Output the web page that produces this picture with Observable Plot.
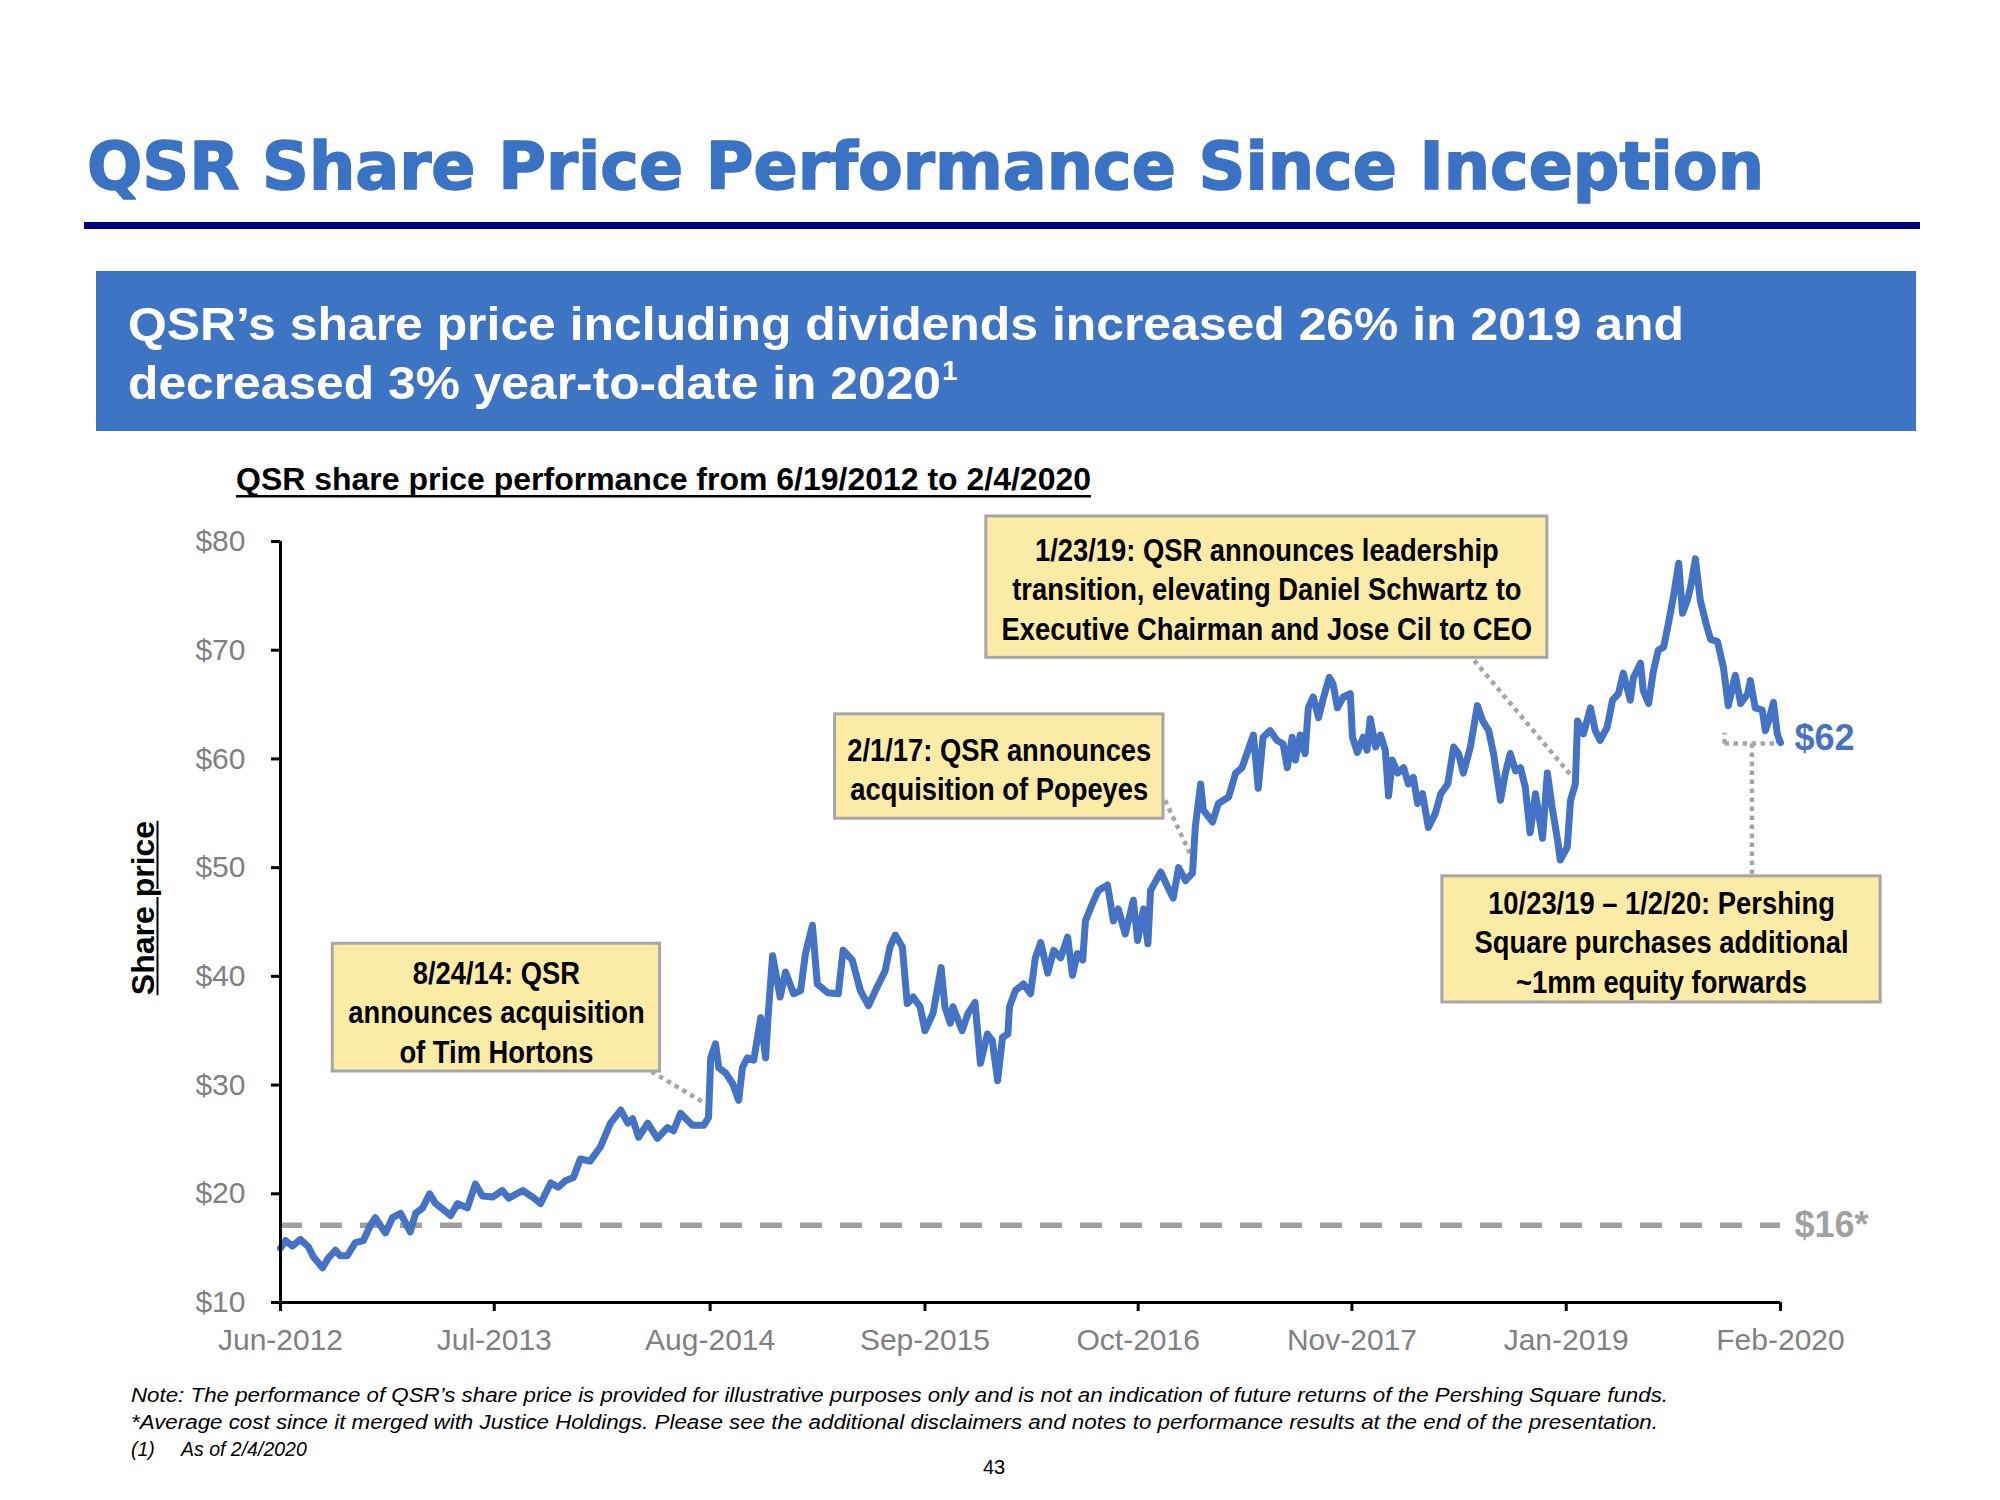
<!DOCTYPE html>
<html><head><meta charset="utf-8">
<script src="https://cdn.jsdelivr.net/npm/d3@7"></script>
<script src="https://cdn.jsdelivr.net/npm/@observablehq/plot@0.6"></script>
<style>
html,body{margin:0;padding:0;background:#fff;}
#page{position:relative;width:2000px;height:1500px;overflow:hidden;background:#fff;}
#deco{position:absolute;left:0;top:0;}
#chart{position:absolute;left:0;top:480px;}
#ylab{position:absolute;left:143px;top:908px;transform:translate(-50%,-50%) rotate(-90deg);font:bold 32px 'Liberation Sans',Arial,sans-serif;text-decoration:underline;text-decoration-thickness:2px;text-underline-offset:3px;white-space:nowrap;color:#000;}
</style></head><body>
<div id="page"><svg id="deco" width="2000" height="1500"></svg><div id="chart"></div><div id="ylab">Share price</div></div>
<script>
// ---- data ----
const dates = ["2012-06-19","2012-06-28","2012-07-11","2012-07-26","2012-08-10","2012-08-19","2012-09-05","2012-09-16","2012-09-29","2012-10-08","2012-10-21","2012-11-05","2012-11-20","2012-12-03","2012-12-12","2012-12-31",
"2013-01-13","2013-01-28","2013-02-15","2013-02-25","2013-03-10","2013-03-23","2013-04-03","2013-04-16","2013-05-01","2013-05-14","2013-06-01","2013-06-16","2013-06-29","2013-07-18","2013-08-05","2013-08-17","2013-09-12","2013-09-30","2013-10-15","2013-11-03","2013-11-17","2013-11-30","2013-12-15","2013-12-28",
"2014-01-15","2014-02-03","2014-02-22","2014-03-13","2014-03-26","2014-04-04","2014-04-15","2014-05-02","2014-05-20","2014-06-08","2014-06-19","2014-07-02","2014-07-24","2014-08-14","2014-08-23","2014-08-27","2014-09-05","2014-09-11","2014-09-24","2014-10-07","2014-10-18","2014-10-25","2014-11-03","2014-11-15","2014-11-28","2014-12-07","2014-12-12","2014-12-20",
"2015-01-03","2015-01-13","2015-01-28","2015-02-10","2015-02-19","2015-03-04","2015-03-13","2015-04-01","2015-04-21","2015-04-30","2015-05-17","2015-06-01","2015-06-16","2015-07-02","2015-07-17","2015-07-26","2015-08-05","2015-08-18","2015-08-27","2015-09-07","2015-09-20","2015-09-29","2015-10-14","2015-10-29","2015-11-05","2015-11-15","2015-11-20","2015-12-07","2015-12-18","2015-12-31",
"2016-01-10","2016-01-23","2016-02-01","2016-02-11","2016-02-20","2016-03-01","2016-03-04","2016-03-15","2016-03-30","2016-04-12","2016-04-21","2016-05-01","2016-05-14","2016-05-25","2016-06-07","2016-06-20","2016-06-29","2016-07-08","2016-07-18","2016-07-23","2016-08-05","2016-08-16","2016-09-02","2016-09-13","2016-09-22","2016-10-05","2016-10-20","2016-10-28","2016-11-08","2016-11-16","2016-11-21","2016-12-10","2016-12-23",
"2017-01-02","2017-01-12","2017-01-25","2017-02-07","2017-02-12","2017-02-22","2017-02-27","2017-03-16","2017-03-27","2017-04-15","2017-04-28","2017-05-10","2017-05-19","2017-05-31","2017-06-09","2017-06-18","2017-07-01","2017-07-14","2017-07-25","2017-08-02","2017-08-11","2017-08-17","2017-08-26","2017-09-04","2017-09-10","2017-09-19","2017-09-29","2017-10-08","2017-10-19","2017-10-26","2017-11-03","2017-11-14","2017-11-27","2017-12-01","2017-12-10","2017-12-21","2017-12-28",
"2018-01-03","2018-01-13","2018-01-22","2018-01-31","2018-02-06","2018-02-13","2018-02-23","2018-03-06","2018-03-15","2018-03-24","2018-04-01","2018-04-10","2018-04-21","2018-05-04","2018-05-14","2018-05-27","2018-06-07","2018-06-16","2018-06-25","2018-07-08","2018-07-21","2018-07-31","2018-08-11","2018-08-20","2018-09-02","2018-09-11","2018-09-20","2018-09-30","2018-10-09","2018-10-18","2018-10-27","2018-11-06","2018-11-19","2018-11-28","2018-12-07","2018-12-17","2018-12-22",
"2019-01-04","2019-01-10","2019-01-19","2019-01-23","2019-02-03","2019-02-16","2019-02-25","2019-03-06","2019-03-19","2019-03-29","2019-04-09","2019-04-18","2019-05-01","2019-05-07","2019-05-20","2019-05-25","2019-06-04","2019-06-13","2019-06-22","2019-07-02","2019-07-11","2019-07-20","2019-07-30","2019-08-06","2019-08-15","2019-08-21","2019-08-30","2019-09-08","2019-09-18","2019-09-27","2019-10-10","2019-10-21","2019-10-30","2019-11-12","2019-11-22","2019-12-05","2019-12-10","2019-12-19",
"2020-01-01","2020-01-07","2020-01-13","2020-01-22","2020-01-29","2020-02-04"];
const prices = [15.0,15.7,15.2,15.8,15.1,14.2,13.2,14.1,14.8,14.3,14.3,15.5,15.7,17.1,17.8,16.4,
17.8,18.2,16.5,18.2,18.7,20.0,19.1,18.6,18.0,19.1,18.7,20.9,19.8,19.7,20.3,19.6,20.3,19.7,19.1,21.0,20.6,21.2,21.5,23.2,
23.0,24.3,26.5,27.7,26.5,26.9,25.2,26.5,25.1,26.1,25.8,27.4,26.3,26.3,27.0,32.5,33.8,31.6,31.1,30.1,28.6,31.6,32.5,32.3,36.2,32.5,36.6,41.9,
38.1,40.4,38.4,38.7,42.1,44.7,39.3,38.5,38.4,42.4,41.5,38.7,37.3,39.0,40.5,42.7,43.8,42.7,37.5,38.1,37.2,35.0,36.6,40.8,37.2,35.7,37.2,35.0,36.6,37.6,
32.0,34.7,34.1,30.4,34.4,34.7,37.2,38.7,39.3,38.4,41.7,43.1,40.3,42.4,41.7,43.6,40.1,42.1,41.5,45.1,46.7,47.9,48.4,45.1,46.2,43.9,47.0,43.3,46.2,43.0,47.9,49.6,48.2,
47.2,50.0,48.8,49.5,53.7,57.7,55.3,54.2,55.9,56.5,58.7,59.2,60.5,62.2,57.3,62.0,62.6,61.7,61.4,59.2,62.0,59.9,62.2,60.5,64.7,65.7,63.8,65.6,67.5,66.9,64.7,65.7,66.0,62.0,60.6,62.0,60.8,
63.7,61.1,62.2,60.8,56.6,59.9,58.7,59.2,57.7,58.3,55.9,56.8,53.7,55.0,56.8,57.7,61.1,60.5,58.7,61.1,64.9,63.5,62.6,60.5,56.2,58.7,60.5,58.9,59.2,57.4,53.2,56.8,52.7,58.7,55.5,52.5,50.7,
51.9,56.2,57.7,63.5,62.3,64.7,62.6,61.7,62.9,65.4,66.0,67.9,65.4,67.5,68.8,66.3,65.1,68.1,70.0,70.3,72.5,74.9,78.0,73.4,74.6,75.8,78.4,74.6,72.6,71.0,70.8,68.4,64.9,67.7,65.1,66.0,67.2,64.7,
64.5,62.6,63.5,65.2,62.3,61.5];

const yTicks = [10,20,30,40,50,60,70,80];
const tickDates = ["2012-06-19","2013-07-21","2014-08-26","2015-09-29","2016-10-29","2017-11-30","2019-01-02","2020-02-04"];
const tickLabels = ["Jun-2012","Jul-2013","Aug-2014","Sep-2015","Oct-2016","Nov-2017","Jan-2019","Feb-2020"];

const avgCostLevel = 17.1;      // dashed line as drawn
const avgCostLabel = "$16*";
const lastLabel = "$62";

const annoText = [
  "8/24/14: QSR\nannounces acquisition\nof Tim Hortons",
  "2/1/17: QSR announces\nacquisition of Popeyes",
  "1/23/19: QSR announces leadership\ntransition, elevating Daniel Schwartz to\nExecutive Chairman and Jose Cil to CEO",
  "10/23/19 \u2013 1/2/20: Pershing\nSquare purchases additional\n~1mm equity forwards"
];
const annoX1 = ["2012-09-24","2015-04-15","2016-01-21","2018-05-17"];
const annoX2 = ["2014-05-25","2016-12-15","2018-11-28","2020-08-08"];
const annoTop = [43.0, 64.1, 82.3, 49.2];
const annoBottom = [31.25, 54.5, 69.3, 37.6];
const annoTextY = [36.86, 59.17, 75.77, 43.3];

// leader lines: from (date, value) to (date, value)
const leaderX1 = ["2014-05-09","2016-12-18","2018-07-15","2019-10-23","2019-10-23","2020-01-31","2019-12-13"];
const leaderY1 = [31.25, 56.2, 69.06, 61.42, 61.42, 61.42, 61.42];
const leaderX2 = ["2014-08-17","2017-02-06","2019-01-11","2020-01-31","2019-10-23","2020-01-31","2019-12-13"];
const leaderY2 = [28.3, 50.9, 58.48, 61.42, 62.4, 62.4, 49.2];

// ---- build ----
const parse = d3.utcParse("%Y-%m-%d");
const series = dates.map((d, i) => ({date: parse(d), price: prices[i]}));
const start = series[0].date, end = series[series.length - 1].date;
const tickDateObjs = tickDates.map(parse);
const annos = annoText.map((t, i) => {
  const x1 = parse(annoX1[i]), x2 = parse(annoX2[i]);
  return {text: t, x1, x2, xm: new Date((+x1 + +x2) / 2), y1: annoTop[i], y2: annoBottom[i], ty: annoTextY[i]};
});
const leaders = leaderX1.map((d, i) => ({x1: parse(d), y1: leaderY1[i], x2: parse(leaderX2[i]), y2: leaderY2[i]}));

const NARROW = "'Liberation Sans Narrow','Arial Narrow','Liberation Sans',Arial,sans-serif";
const SANS = "'Liberation Sans',Arial,sans-serif";

const chart = Plot.plot({
  width: 2000, height: 900,
  marginLeft: 280, marginRight: 220, marginTop: 61, marginBottom: 78,
  x: {type: "utc", domain: [start, end]},
  y: {domain: [10, 80]},
  style: {fontFamily: SANS, fontSize: "30px", background: "transparent", overflow: "visible"},
  marks: [
    Plot.ruleY([avgCostLevel], {stroke: "#A0A0A0", strokeWidth: 5.5, strokeDasharray: "22,18"}),
    Plot.link(leaders, {x1: "x1", y1: "y1", x2: "x2", y2: "y2", stroke: "#A6A6A6", strokeWidth: 4.5, strokeDasharray: "4.5,4.5"}),
    Plot.lineY(series, {x: "date", y: "price", stroke: "#4472C4", strokeWidth: 7, strokeLinejoin: "round", strokeLinecap: "round"}),
    Plot.rect(annos, {x1: "x1", x2: "x2", y1: "y1", y2: "y2", fill: "#FCEBA6", stroke: "#A6A6A6", strokeWidth: 3}),
    Plot.text(annos, {x: "xm", y: "ty", text: "text", fontSize: 32, fontWeight: "bold", lineHeight: 1.234, fill: "#000", fontFamily: NARROW}),
    Plot.ruleY([10], {stroke: "#000", strokeWidth: 3}),
    Plot.ruleX([start], {y1: 10, y2: 80, stroke: "#000", strokeWidth: 3}),
    Plot.axisY({ticks: yTicks, tickFormat: d => "$" + d, tickSize: 9, tickPadding: 26, stroke: "#000", strokeWidth: 3, fill: "#808080", fontSize: 30, label: null}),
    Plot.axisX({ticks: tickDateObjs, tickFormat: d => tickLabels[tickDateObjs.findIndex(t => +t === +d)], tickSize: 9, tickPadding: 17, stroke: "#000", strokeWidth: 3, fill: "#808080", fontSize: 30, label: null}),
    Plot.text([series[series.length - 1]], {x: "date", y: "price", text: () => lastLabel, dx: 14, dy: -4, textAnchor: "start", fill: "#4472C4", fontSize: 36, fontWeight: "bold"}),
    Plot.text([avgCostLevel], {x: end, y: d => d, text: () => avgCostLabel, dx: 14, textAnchor: "start", fill: "#A0A0A0", fontSize: 36, fontWeight: "bold"})
  ]
});
document.getElementById("chart").appendChild(chart);

// condense the annotation text horizontally (narrow face stand-in)
d3.select(chart).selectAll("g").filter(function () {
  const f = this.getAttribute("font-family"); return f && f.includes("Narrow");
}).selectAll("text").each(function () {
  const bb = this.getBBox(); const cx = bb.x + bb.width / 2;
  const t = this.getAttribute("transform") || "";
  this.setAttribute("transform", `${t} translate(${cx},0) scale(0.855,1) translate(${-cx},0)`);
});

// ---- page decoration (title, banner, notes) ----
const deco = d3.select("#deco");
deco.append("text").attr("x", 87).attr("y", 189)
  .attr("font-family", "'DejaVu Sans',Verdana,sans-serif").attr("font-weight", "bold").attr("font-size", 65)
  .attr("fill", "#3A72C4").attr("stroke", "#3A72C4").attr("stroke-width", 1.6).attr("stroke-linejoin", "round")
  .attr("textLength", 1677).attr("lengthAdjust", "spacingAndGlyphs")
  .text("QSR Share Price Performance Since Inception");
deco.append("rect").attr("x", 84).attr("y", 222).attr("width", 1836).attr("height", 7).attr("fill", "#000080");
deco.append("rect").attr("x", 96).attr("y", 271).attr("width", 1820).attr("height", 160).attr("fill", "#3D74C4");
deco.append("text").attr("x", 128).attr("y", 340).attr("font-family", SANS).attr("font-weight", "bold").attr("font-size", 47)
  .attr("fill", "#fff").attr("textLength", 1556).attr("lengthAdjust", "spacingAndGlyphs")
  .text("QSR\u2019s share price including dividends increased 26% in 2019 and");
deco.append("text").attr("x", 128).attr("y", 399).attr("font-family", SANS).attr("font-weight", "bold").attr("font-size", 47)
  .attr("fill", "#fff").attr("textLength", 813).attr("lengthAdjust", "spacingAndGlyphs")
  .text("decreased 3% year-to-date in 2020");
deco.append("text").attr("x", 942).attr("y", 380).attr("font-family", SANS).attr("font-weight", "bold").attr("font-size", 28)
  .attr("fill", "#fff").text("1");
deco.append("text").attr("x", 236).attr("y", 490).attr("font-family", NARROW).attr("font-weight", "bold").attr("font-size", 32)
  .attr("fill", "#000").attr("textLength", 855).attr("lengthAdjust", "spacingAndGlyphs")
  .text("QSR share price performance from 6/19/2012 to 2/4/2020");
deco.append("rect").attr("x", 236).attr("y", 495).attr("width", 855).attr("height", 2.5).attr("fill", "#000");

const notes = [
  ["Note: The performance of QSR\u2019s share price is provided for illustrative purposes only and is not an indication of future returns of the Pershing Square funds.", 131, 1402, 1537],
  ["*Average cost since it merged with Justice Holdings. Please see the additional disclaimers and notes to performance results at the end of the presentation.", 131, 1429, 1527],
  ["(1)", 131, 1456, null],
  ["As of 2/4/2020", 181, 1456, null]
];
notes.forEach(([t, x, y, w]) => {
  const el = deco.append("text").attr("x", x).attr("y", y).attr("font-family", SANS).attr("font-style", "italic")
    .attr("font-size", 19.5).attr("fill", "#000").text(t);
  if (w) el.attr("textLength", w).attr("lengthAdjust", "spacingAndGlyphs");
});
deco.append("text").attr("x", 994).attr("y", 1474).attr("text-anchor", "middle").attr("font-family", SANS)
  .attr("font-size", 20).attr("fill", "#000").text("43");
</script>
</body></html>
